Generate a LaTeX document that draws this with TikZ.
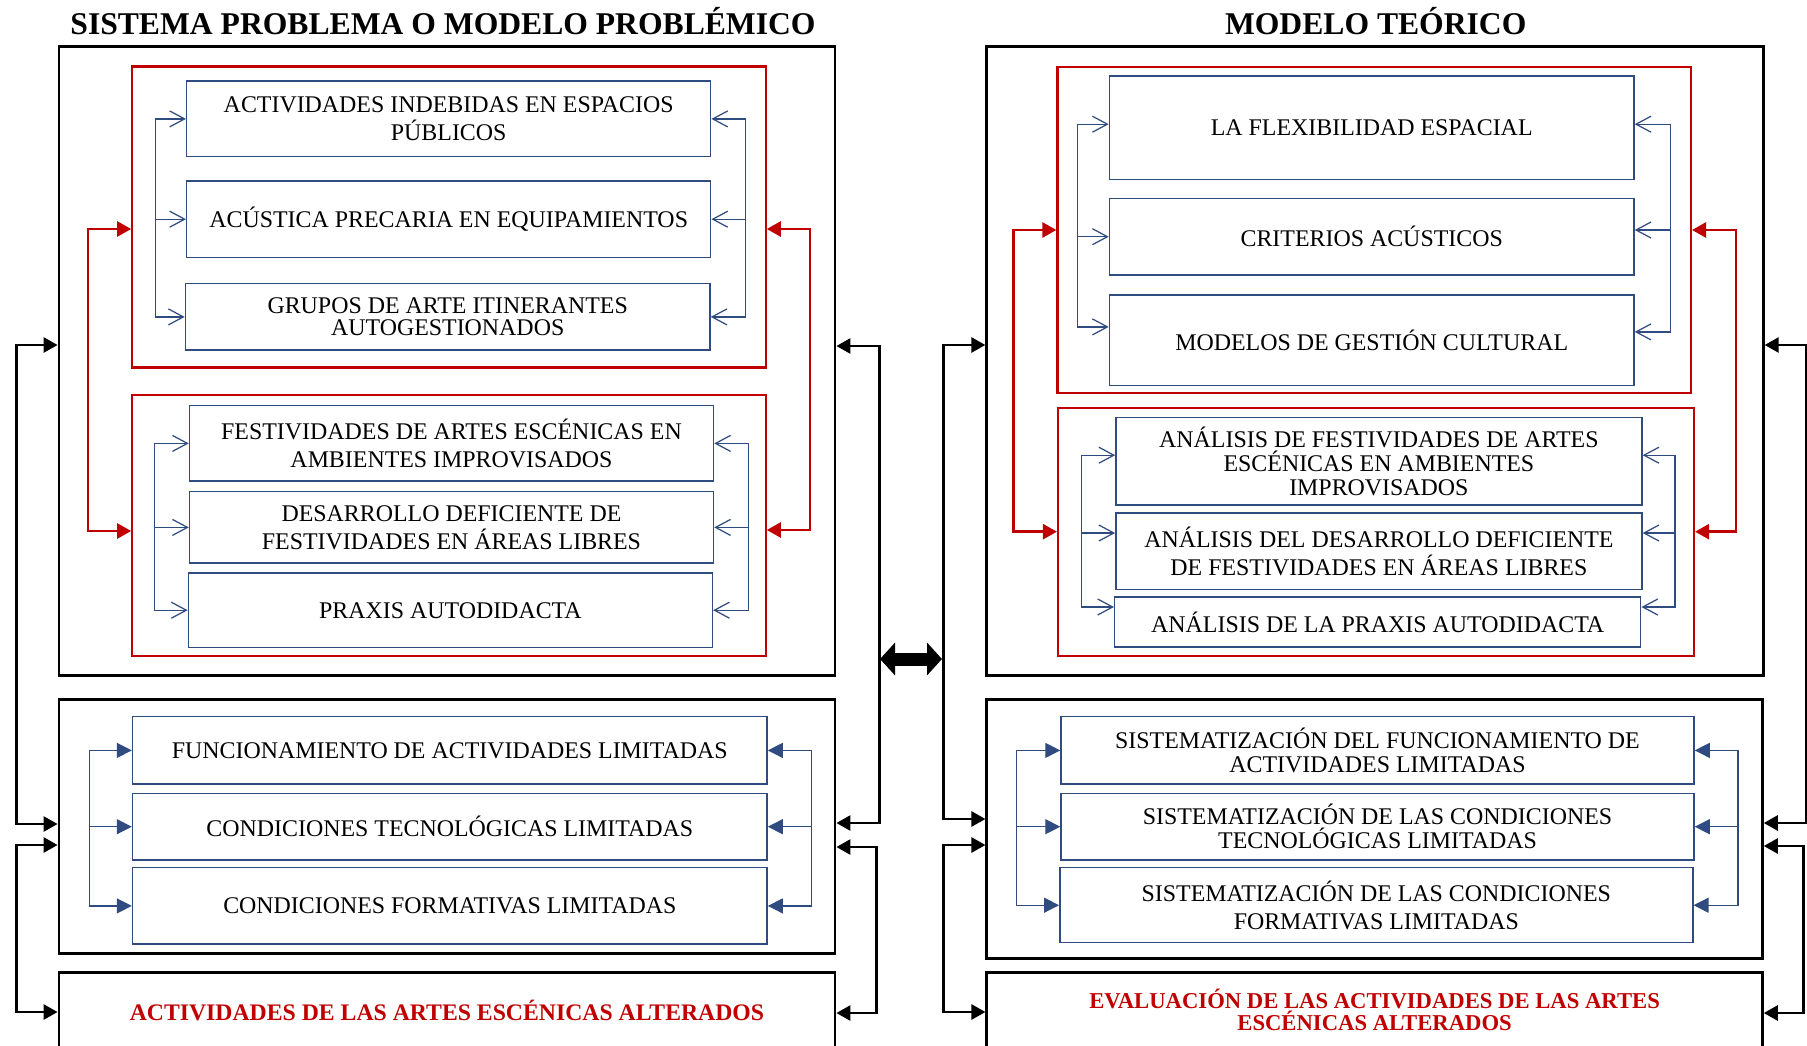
\documentclass[tikz,border=0pt]{standalone}
\usepackage{fontspec}
\setmainfont{Liberation Serif}
\usetikzlibrary{arrows.meta}
\definecolor{rojo}{HTML}{C00000}
\definecolor{azul}{HTML}{2F4B80}
\tikzset{
  titulo/.style={anchor=base,font=\fontsize{18}{20}\selectfont\bfseries},
  marco/.style={draw,line width=1.6pt},
  marcorojo/.style={draw=rojo,line width=1.2pt},
  caja/.style={draw=azul,line width=0.85pt,align=center,font=\fontsize{13.6}{16}\selectfont},
  cajajusta/.style={caja,font=\fontsize{13.6}{13.8}\selectfont},
  final/.style={marco,align=center,text=rojo,font=\fontsize{13.5}{12.5}\selectfont\bfseries},
  abierta/.style={draw=azul,line width=0.7pt,>={Straight Barb[length=3mm,width=3.2mm]}},
  rellena/.style={draw=azul,line width=0.7pt,>={Triangle[length=3mm,width=3mm]}},
  roja/.style={draw=rojo,line width=1.4pt,>={Triangle[length=2.8mm,width=3mm]}},
  negra/.style={draw=black,line width=1.5pt,>={Triangle[length=2.8mm,width=3mm]}},
  doble/.style={line width=0.26cm,{Triangle[length=0.3cm,width=0.64cm]}-{Triangle[length=0.3cm,width=0.64cm]}}
}
\begin{document}
\begin{tikzpicture}[x=0.2mm,y=-0.2mm]
\useasboundingbox (0,0) rectangle (1807,1045);
\clip (0,0) rectangle (1807,1045);

% titulos
\node[titulo] (tl) at (443,35) {SISTEMA PROBLEMA O MODELO PROBLÉMICO};
\node[titulo] (tr) at (1375.7,35) {MODELO TEÓRICO};

% sistema problema
\node[marco,minimum width=15.52cm,minimum height=12.57cm] (L1) at (447,361) {};
\node[marcorojo,minimum width=12.67cm,minimum height=6.02cm] (LA) at (449,217) {};
\node[caja,minimum width=10.48cm,minimum height=1.51cm] (a1) at (448.7,118.9) {ACTIVIDADES INDEBIDAS EN ESPACIOS\\PÚBLICOS};
\node[caja,minimum width=10.48cm,minimum height=1.53cm] (a2) at (448.7,219.2) {ACÚSTICA PRECARIA EN EQUIPAMIENTOS};
\node[caja,font=\fontsize{13.6}{12.8}\selectfont,minimum width=10.49cm,minimum height=1.33cm] (a3) at (447.7,316.9) {GRUPOS DE ARTE ITINERANTES\\AUTOGESTIONADOS};
\node[marcorojo,minimum width=12.67cm,minimum height=5.21cm] (LB) at (449,525.4) {};
\node[caja,minimum width=10.48cm,minimum height=1.51cm] (b1) at (451.5,443.4) {FESTIVIDADES DE ARTES ESCÉNICAS EN\\AMBIENTES IMPROVISADOS};
\node[caja,minimum width=10.48cm,minimum height=1.43cm] (b2) at (451.5,527.4) {DESARROLLO DEFICIENTE DE\\FESTIVIDADES EN ÁREAS LIBRES};
\node[caja,minimum width=10.48cm,minimum height=1.49cm] (b3) at (450.4,610.2) {PRAXIS AUTODIDACTA};
\node[marco,minimum width=15.52cm,minimum height=5.08cm] (L2) at (447,826.5) {};
\node[caja,minimum width=12.69cm,minimum height=1.35cm] (c1) at (449.8,750.4) {FUNCIONAMIENTO DE ACTIVIDADES LIMITADAS};
\node[caja,minimum width=12.69cm,minimum height=1.33cm] (c2) at (449.8,826.7) {CONDICIONES TECNOLÓGICAS LIMITADAS};
\node[caja,minimum width=12.69cm,minimum height=1.53cm] (c3) at (449.8,905.9) {CONDICIONES FORMATIVAS LIMITADAS};
\node[final,minimum width=15.52cm,minimum height=1.51cm] (L3) at (447,1010.3) {ACTIVIDADES DE LAS ARTES ESCÉNICAS ALTERADOS};

% modelo teorico
\node[marco,minimum width=15.53cm,minimum height=12.58cm] (R1) at (1375,361.2) {};
\node[marcorojo,minimum width=12.67cm,minimum height=6.53cm] (RA) at (1374.2,230) {};
\node[caja,minimum width=10.49cm,minimum height=2.07cm] (e1) at (1371.7,127.7) {LA FLEXIBILIDAD ESPACIAL};
\node[caja,minimum width=10.49cm,minimum height=1.53cm] (e2) at (1371.7,236.7) {CRITERIOS ACÚSTICOS};
\node[caja,minimum width=10.49cm,minimum height=1.81cm] (e3) at (1371.7,340.4) {MODELOS DE GESTIÓN CULTURAL};
\node[marcorojo,minimum width=12.72cm,minimum height=4.96cm] (RB) at (1376,531.7) {};
\node[cajajusta,minimum width=10.52cm,minimum height=1.75cm] (f1) at (1378.9,461.2) {ANÁLISIS DE FESTIVIDADES DE ARTES\\ESCÉNICAS EN AMBIENTES\\IMPROVISADOS};
\node[caja,minimum width=10.52cm,minimum height=1.53cm] (f2) at (1378.9,551) {ANÁLISIS DEL DESARROLLO DEFICIENTE\\DE FESTIVIDADES EN ÁREAS LIBRES};
\node[caja,minimum width=10.52cm,minimum height=1cm] (f3) at (1377.7,622) {ANÁLISIS DE LA PRAXIS AUTODIDACTA};
\node[marco,minimum width=15.51cm,minimum height=5.18cm] (R2) at (1374.6,828.8) {};
\node[cajajusta,minimum width=12.66cm,minimum height=1.35cm] (d1) at (1377.5,750.4) {SISTEMATIZACIÓN DEL FUNCIONAMIENTO DE\\ACTIVIDADES LIMITADAS};
\node[cajajusta,minimum width=12.66cm,minimum height=1.33cm] (d2) at (1377.5,826.7) {SISTEMATIZACIÓN DE LAS CONDICIONES\\TECNOLÓGICAS LIMITADAS};
\node[caja,minimum width=12.66cm,minimum height=1.5cm] (d3) at (1376.3,905.2) {SISTEMATIZACIÓN DE LAS CONDICIONES\\FORMATIVAS LIMITADAS};
\node[final,font=\fontsize{12.9}{12.5}\selectfont\bfseries,minimum width=15.51cm,minimum height=1.51cm] (R3) at (1374.6,1010.3) {EVALUACIÓN DE LAS ACTIVIDADES DE LAS ARTES\\ESCÉNICAS ALTERADOS};

% flechas azules
\draw[abierta,<->] (a1.west) -- ++(-30.6,0) coordinate (aL) |- (a3.west);
\draw[abierta,->] (aL |- a2) -- (a2.west);
\draw[abierta,<->] (a1.east) -- ++(34.3,0) coordinate (aR) |- (a3.east);
\draw[abierta,->] (aR |- a2) -- (a2.east);
\draw[abierta,<->] (b1.west) -- ++(-34,0) coordinate (bL) |- (b3.west);
\draw[abierta,->] (bL |- b2) -- (b2.west);
\draw[abierta,<->] (b1.east) -- ++(34.5,0) coordinate (bR) |- (b3.east);
\draw[abierta,->] (bR |- b2) -- (b2.east);
\draw[rellena,<->] (c1.west) -- ++(-42.6,0) coordinate (cL) |- (c3.west);
\draw[rellena,->] (cL |- c2) -- (c2.west);
\draw[rellena,<->] (c1.east) -- ++(43.6,0) coordinate (cR) |- (c3.east);
\draw[rellena,->] (cR |- c2) -- (c2.east);

\draw[abierta,<->] ([yshift=0.07cm]e1.west) -- ++(-31.3,0) coordinate (eL) |- ([yshift=0.27cm]e3.west);
\draw[abierta,->] (eL |- e2) -- (e2.west);
\draw[abierta,<->] ([yshift=0.07cm]e1.east) -- ++(36,0) coordinate (eR) |- ([yshift=0.17cm]e3.east);
\draw[abierta,->] (eR |- 0,230) -- (e2.east |- 0,230);
\draw[abierta,<->] ([yshift=0.12cm]f1.west) -- ++(-33.6,0) coordinate (fL) |- ([yshift=0.3cm]f3.west);
\draw[abierta,->] (fL |- 0,533) -- (f2.west |- 0,533);
\draw[abierta,<->] ([yshift=0.12cm]f1.east) -- ++(32.4,0) coordinate (fR) |- ([yshift=0.3cm]f3.east);
\draw[abierta,->] (fR |- 0,533) -- (f2.east |- 0,533);
\draw[rellena,<->] (d1.west) -- ++(-43.9,0) coordinate (dL) |- (d3.west);
\draw[rellena,->] (dL |- d2) -- (d2.west);
\draw[rellena,<->] (d1.east) -- ++(43.3,0) coordinate (dR) |- (d3.east);
\draw[rellena,->] (dR |- d2) -- (d2.east);

% flechas rojas
\draw[roja,<->] (LA.west |- 0,229) -- ++(-43,0) |- (LB.west |- 0,531);
\draw[roja,<->] (LA.east |- 0,229) -- ++(43,0) |- (LB.east |- 0,530);
\draw[roja,<->] (RA.west) -- ++(-42.9,0) |- (RB.west);
\draw[roja,<->] (RA.east) -- ++(44.1,0) |- (RB.east);

% flechas negras
\draw[negra,<->] (L1.west |- 0,345) -- ++(-41,0) |- (L2.west |- 0,824);
\draw[negra,<->] (L2.west |- 0,845) -- ++(-41,0) |- (L3.west |- 0,1012);
\draw[negra,<->] (L1.east |- 0,346) -- ++(43,0) |- (L2.east |- 0,823);
\draw[negra,<->] (L2.east |- 0,847) -- ++(40,0) |- (L3.east |- 0,1013);
\draw[negra,<->] (R1.west |- 0,345) -- ++(-41.7,0) |- (R2.west |- 0,819);
\draw[negra,<->] (R2.west |- 0,845) -- ++(-41.7,0) |- (R3.west |- 0,1012);
\draw[negra,<->] (R1.east |- 0,345) -- ++(41.7,0) |- (R2.east |- 0,823);
\draw[negra,<->] (R2.east |- 0,846) -- ++(39.6,0) |- (R3.east |- 0,1013);

% relacion entre modelos
\coordinate (dl) at (880,659);
\coordinate (dr) at (942,659);
\draw[doble] (dl) -- (dr);
\end{tikzpicture}
\end{document}
